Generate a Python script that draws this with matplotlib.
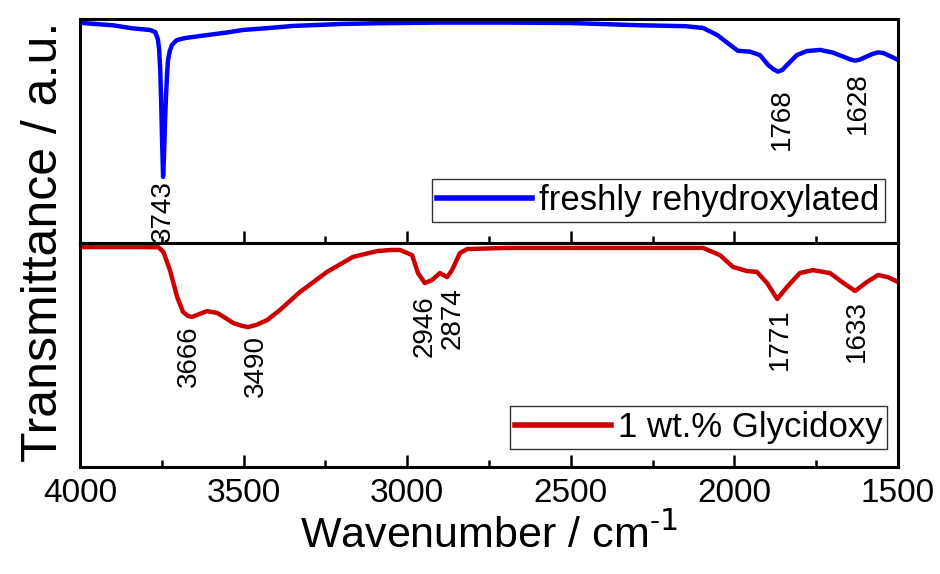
import matplotlib
matplotlib.use("Agg")
import matplotlib.pyplot as plt
from matplotlib import font_manager

# FTIR spectra, transmittance in arbitrary units (0-100 per panel)
top_wn = [4000, 3900, 3838, 3786, 3770, 3762, 3758, 3755, 3752, 3749,
          3746, 3743, 3740, 3737, 3734, 3731, 3725, 3719, 3704, 3679,
          3633, 3550, 3502, 3420, 3349, 3196, 3092, 2900, 2700, 2500,
          2288, 2150, 2096, 2053, 2013, 1989, 1952, 1922, 1897, 1880,
          1867, 1853, 1839, 1809, 1778, 1738, 1699, 1662, 1645, 1631,
          1616, 1601, 1580, 1561, 1545, 1531, 1515, 1500]
top_t = [98.3, 97.2, 95.8, 95.1, 94.2, 91.0, 86.2, 78.0, 63.8, 45.0,
         29.5, 40.0, 55.0, 66.0, 75.0, 81.7, 86.0, 88.4, 90.6, 91.5,
         92.4, 94.0, 95.1, 96.0, 96.9, 97.8, 98.1, 98.4, 98.4, 98.2,
         97.2, 96.8, 96.0, 92.9, 88.4, 85.8, 85.4, 83.9, 79.5, 77.5,
         76.5, 77.3, 79.5, 83.9, 85.7, 86.2, 85.0, 82.9, 81.9, 81.4,
         81.9, 82.9, 84.3, 85.1, 84.8, 83.9, 82.8, 81.7]

bot_wn = [4000, 3800, 3760, 3745, 3725, 3703, 3685, 3670, 3657, 3640,
          3612, 3581, 3555, 3532, 3505, 3486, 3460, 3428, 3389, 3328,
          3245, 3166, 3092, 3050, 3022, 2985, 2967, 2946, 2924, 2900,
          2878, 2863, 2839, 2817, 2700, 2400, 2200, 2096, 2044, 2004,
          1962, 1931, 1900, 1869, 1839, 1800, 1760, 1708, 1671, 1631,
          1595, 1561, 1531, 1500]
bot_t = [98.2, 98.2, 98.1, 96.0, 87.9, 75.9, 69.2, 67.5, 67.0, 68.0,
         69.6, 68.8, 66.5, 64.3, 63.0, 62.5, 63.5, 65.6, 70.1, 78.1,
         87.1, 93.8, 96.4, 96.9, 96.9, 94.6, 86.6, 82.1, 83.5, 86.6,
         84.8, 87.9, 95.5, 97.3, 97.8, 97.8, 97.8, 97.8, 94.6, 89.3,
         87.5, 87.1, 82.1, 75.0, 80.4, 86.6, 87.9, 86.6, 82.6, 78.6,
         82.6, 85.7, 84.8, 82.6]

# peak labels: text, x position, y of the label's upper end
top_peaks = ["3743", "1768", "1628"]
top_peak_x = [3746, 1855, 1622]
top_peak_y = [28.1, 69.2, 76.3]
bot_peaks = ["3666", "3490", "2946", "2874", "1771", "1633"]
bot_peak_x = [3667, 3462, 2946, 2860, 1861, 1625]
bot_peak_y = [63.4, 58.9, 76.8, 80.4, 71.0, 74.6]

plt.rcParams["font.family"] = ["Liberation Sans", "DejaVu Sans"]

# narrow face for the x axis, if there is one
try:
    font_manager.findfont("Liberation Sans Narrow", fallback_to_default=False)
    narrow = ["Liberation Sans Narrow"]
    tick_size, xlab_size = 28, 37
except ValueError:
    narrow = ["Liberation Sans"]
    tick_size, xlab_size = 24, 31

fig = plt.figure(figsize=(9.4, 5.74), dpi=100)
ax1 = fig.add_axes([0.0851, 0.5767, 0.8702, 0.3902])
ax2 = fig.add_axes([0.0851, 0.1864, 0.8702, 0.3902], sharex=ax1)

ax1.plot(top_wn, top_t, color="#0000ff", lw=3.2, label="freshly rehydroxylated",
         solid_joinstyle="round")
ax2.plot(bot_wn, bot_t, color="#cc0000", lw=3.2, label="1 wt.% Glycidoxy",
         solid_joinstyle="round")

for txt, x, y in zip(top_peaks, top_peak_x, top_peak_y):
    ax1.text(x, y, txt, rotation=90, ha="center", va="top", fontsize=20)
for txt, x, y in zip(bot_peaks, bot_peak_x, bot_peak_y):
    ax2.text(x, y, txt, rotation=90, ha="center", va="top", fontsize=20)

ax1.set_xlim(4000, 1500)
for ax in (ax1, ax2):
    ax.set_ylim(0, 100)
    ax.set_yticks([])
    for s in ax.spines.values():
        s.set_linewidth(2.2)
    ax.set_xticks([4000, 3500, 3000, 2500, 2000, 1500])
    ax.set_xticks([3750, 3250, 2750, 2250, 1750], minor=True)
    ax.tick_params(axis="x", which="major", direction="in", length=9,
                   width=1.8, pad=8, labelsize=tick_size)
    ax.tick_params(axis="x", which="minor", direction="in", length=5,
                   width=1.8)
ax1.tick_params(axis="x", labelbottom=False)
for lab in ax2.get_xticklabels():
    lab.set_family(narrow)

leg_kw = dict(loc="lower right", fontsize=25, frameon=True, fancybox=False,
              borderpad=0.15, handlelength=2.75, handletextpad=0.2,
              borderaxespad=0)
leg1 = ax1.legend(bbox_to_anchor=(0.984, 0.094), **leg_kw)
leg2 = ax2.legend(bbox_to_anchor=(0.987, 0.080), **leg_kw)
for leg in (leg1, leg2):
    leg.get_frame().set_edgecolor("black")
    leg.get_frame().set_linewidth(1.0)
    for h in leg.get_lines():
        h.set_linewidth(4.0)

ax2.set_xlabel("Wavenumber / cm$^{\\mathregular{\u2010}1}$", fontsize=xlab_size,
               family=narrow, labelpad=4)
fig.text(0.047, 1 - 242 / 574, "Transmittance / a.u.", rotation=90,
         ha="center", va="center", fontsize=36)

fig.savefig("out.png", dpi=100)
